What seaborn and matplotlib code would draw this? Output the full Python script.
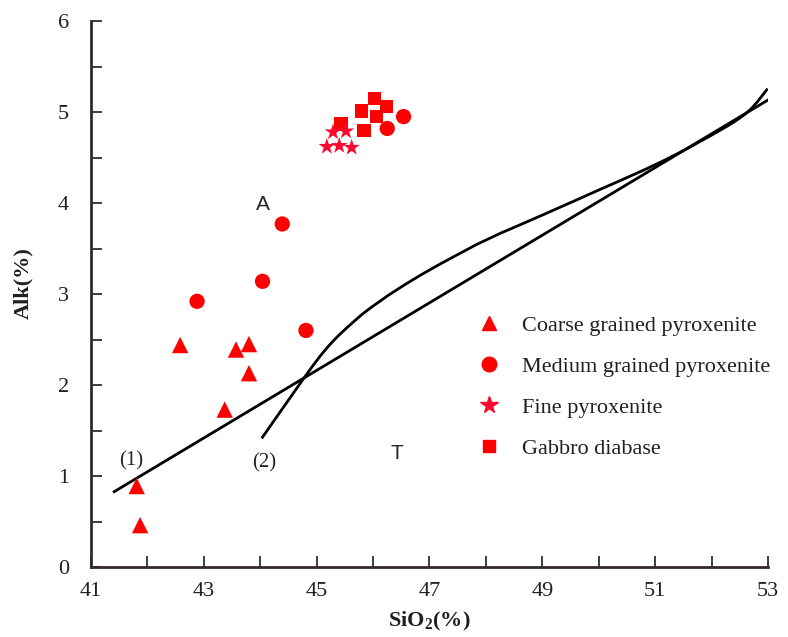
import matplotlib
matplotlib.use("Agg")
import matplotlib.pyplot as plt
from matplotlib.lines import Line2D
from matplotlib.ticker import MultipleLocator, FixedLocator
import pandas as pd
import seaborn as sns

# Sample compositions (SiO2 wt%, total alkali wt%)
coarse_sio2 = [42.58, 43.57, 43.80, 43.80, 43.37, 41.81, 41.87]
coarse_alk = [2.44, 2.39, 2.45, 2.13, 1.73, 0.89, 0.46]
medium_sio2 = [42.88, 44.04, 44.39, 44.81, 46.25, 46.54]
medium_alk = [2.92, 3.14, 3.77, 2.60, 4.82, 4.95]
gabbro_sio2 = [46.02, 45.80, 46.24, 46.06, 45.84, 45.43]
gabbro_alk = [5.15, 5.01, 5.06, 4.95, 4.80, 4.87]
fine_sio2 = [45.18, 45.40, 45.62, 45.29, 45.52]
fine_alk = [4.62, 4.63, 4.61, 4.78, 4.79]

rock_names = ["Coarse grained pyroxenite", "Medium grained pyroxenite",
              "Fine pyroxenite", "Gabbro diabase"]

# Boundary lines (1) and (2)
line1_sio2 = [41.39, 53.02]
line1_alk = [0.82, 5.14]
line2_sio2 = [44.026, 44.261, 44.497, 44.793, 44.935, 45.077, 45.218,
              45.360, 45.520, 45.679, 45.821, 45.975, 46.269, 46.565,
              46.861, 47.156, 47.452, 47.836, 48.249, 48.662, 49.100,
              49.548, 50.021, 50.435, 50.819, 51.174, 51.528, 51.971,
              52.326, 52.468, 52.592, 52.698, 52.804, 52.893, 52.994]
line2_alk = [1.414, 1.623, 1.832, 2.093, 2.214, 2.330, 2.434,
             2.527, 2.621, 2.709, 2.785, 2.857, 2.986, 3.104,
             3.215, 3.319, 3.418, 3.545, 3.666, 3.776, 3.895,
             4.018, 4.149, 4.262, 4.368, 4.473, 4.585, 4.736,
             4.863, 4.920, 4.976, 5.033, 5.107, 5.177, 5.258]

x_major = [41, 43, 45, 47, 49, 51, 53]
y_major = [0, 1, 2, 3, 4, 5, 6]

sns.set_theme(style="ticks")
plt.rcParams["font.family"] = ["Liberation Serif", "DejaVu Serif"]
plt.rcParams["mathtext.fontset"] = "custom"
plt.rcParams["mathtext.rm"] = "Liberation Serif:bold"
plt.rcParams["mathtext.bf"] = "Liberation Serif:bold"

frames = [
    pd.DataFrame({"SiO2": coarse_sio2, "Alk": coarse_alk, "rock": rock_names[0]}),
    pd.DataFrame({"SiO2": medium_sio2, "Alk": medium_alk, "rock": rock_names[1]}),
    pd.DataFrame({"SiO2": gabbro_sio2, "Alk": gabbro_alk, "rock": rock_names[3]}),
    pd.DataFrame({"SiO2": fine_sio2, "Alk": fine_alk, "rock": rock_names[2]}),
]
df = pd.concat(frames, ignore_index=True)

markers = {rock_names[0]: "^", rock_names[1]: "o",
           rock_names[2]: "*", rock_names[3]: "s"}
sizes = {rock_names[0]: 11.8 ** 2, rock_names[1]: 11 ** 2,
         rock_names[2]: 12.5 ** 2, rock_names[3]: 9.6 ** 2}
palette = {rock_names[0]: "#ff0000", rock_names[1]: "#ff0000",
           rock_names[2]: "#fa0a2c", rock_names[3]: "#ff0000"}

fig = plt.figure(figsize=(7.88, 6.37), dpi=100)
ax = fig.add_axes([0.1155, 0.1099, 0.8591, 0.857])

line_color = "#000000"
ax.plot(line1_sio2, line1_alk, color=line_color, lw=2.0,
        solid_capstyle="butt", solid_joinstyle="round")
ax.plot(line2_sio2, line2_alk, color=line_color, lw=2.0,
        solid_capstyle="butt", solid_joinstyle="round")

sns.scatterplot(data=df, x="SiO2", y="Alk", hue="rock", style="rock",
                size="rock", markers=markers, sizes=sizes, palette=palette,
                linewidth=0, legend=False, ax=ax, zorder=3)

ax.set_xlim(41, 53)
ax.set_ylim(0, 6)

spine_color = "#352a27"
sns.despine(ax=ax)
for side in ("left", "bottom"):
    ax.spines[side].set_linewidth(2.0)
    ax.spines[side].set_color(spine_color)

ax.xaxis.set_major_locator(FixedLocator(x_major))
ax.xaxis.set_minor_locator(MultipleLocator(1))
ax.yaxis.set_major_locator(FixedLocator(y_major))
ax.yaxis.set_minor_locator(MultipleLocator(0.5))
ax.set_xticklabels([str(v) for v in x_major])
ax.set_yticklabels([str(v) for v in y_major])
ax.tick_params(which="both", direction="in", length=8, width=1.3,
               color=spine_color)
ax.tick_params(axis="x", which="major", pad=11, labelsize=16, labelcolor="#231f20")
ax.tick_params(axis="y", which="major", pad=16, labelsize=16, labelcolor="#231f20")

ax.set_xlabel(r"SiO$_\mathbf{2}$(%)", fontsize=16, fontweight="bold",
              color="#231f20", labelpad=6)
ax.set_ylabel("Alk(%)", fontsize=16, fontweight="bold", color="#231f20")
ax.yaxis.set_label_coords(-0.0857, 0.52)

sans = ["Liberation Sans", "DejaVu Sans"]
ax.text(44.05, 3.98, "A", family=sans, fontsize=15, ha="center", va="center")
ax.text(46.42, 1.25, "T", family=sans, fontsize=15, ha="center", va="center")
ax.text(41.71, 1.17, "(1)", fontsize=15, ha="center", va="center")
ax.text(44.07, 1.15, "(2)", fontsize=15, ha="center", va="center")

handles = [
    Line2D([], [], ls="", marker="^", color="#ff0000", markersize=10),
    Line2D([], [], ls="", marker="o", color="#ff0000", markersize=10.5),
    Line2D([], [], ls="", marker="*", color="#fa0a2c", markersize=13),
    Line2D([], [], ls="", marker="s", color="#ff0000", markersize=9),
]
ax.legend(handles, rock_names, frameon=False, fontsize=16,
          loc="upper left", bbox_to_anchor=(458 / 788, 1 - 295 / 637),
          bbox_transform=fig.transFigure, handlelength=1.0,
          handletextpad=1.0, labelspacing=0.92, borderpad=0.4,
          labelcolor="#231f20")

fig.savefig("out.png", dpi=100)
